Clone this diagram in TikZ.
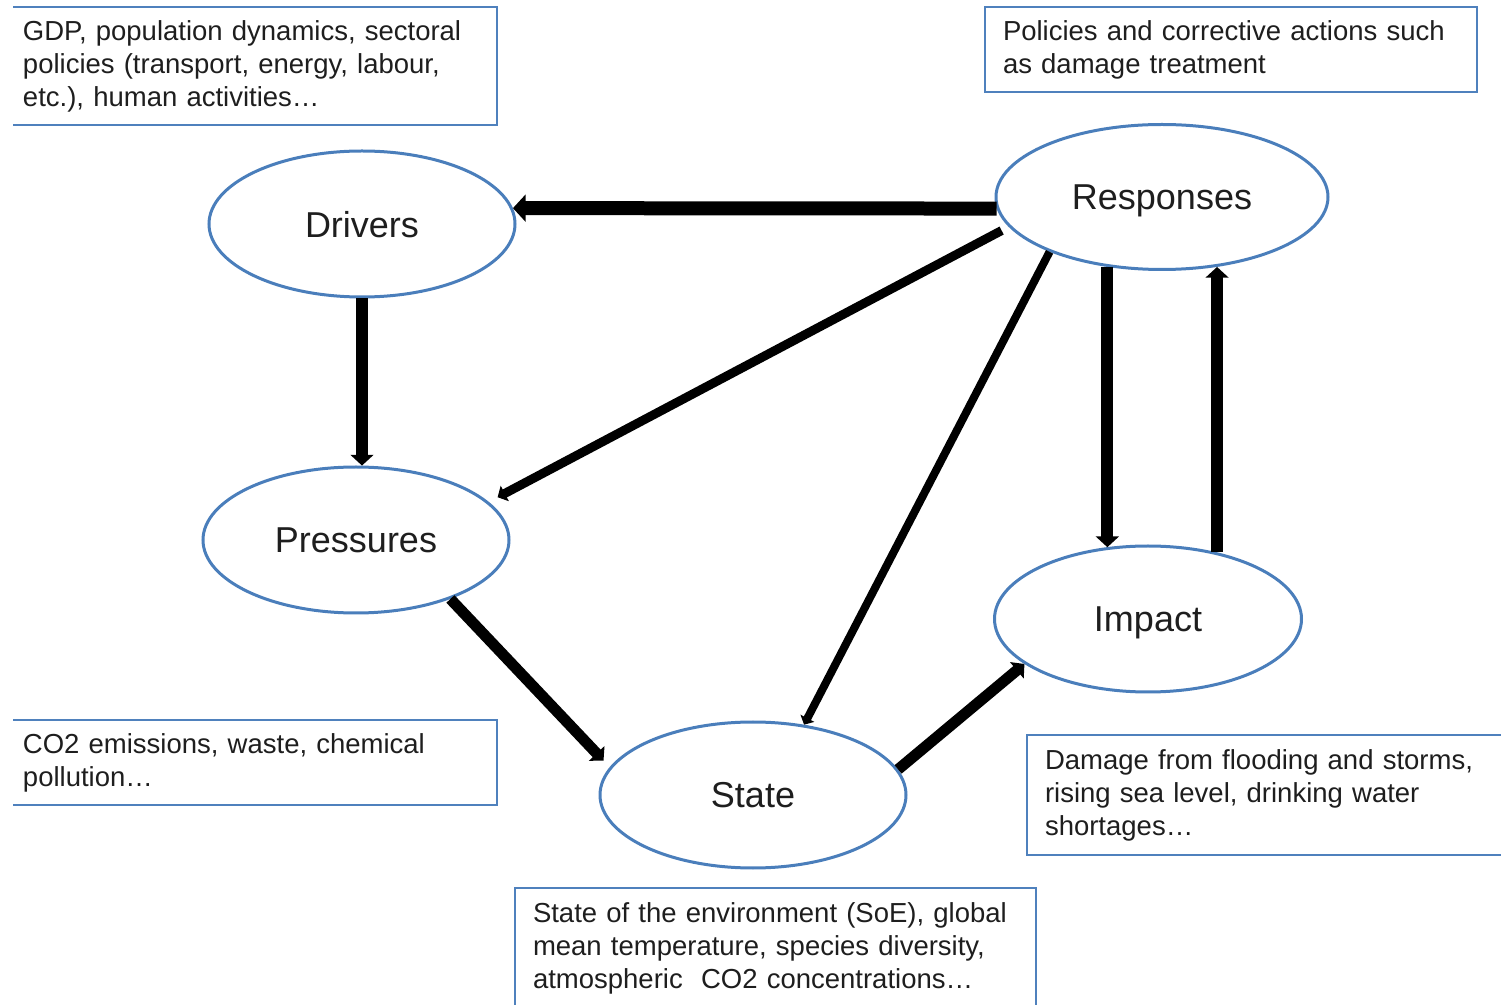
\documentclass[tikz,border=0pt]{standalone}
\usepackage{fontspec}
\setmainfont{Liberation Sans}
\usetikzlibrary{arrows.meta,shapes.geometric}
\definecolor{ellblue}{RGB}{74,126,187}
\definecolor{boxblue}{RGB}{79,129,189}
\definecolor{txtgray}{RGB}{30,30,30}

\begin{document}
\begin{tikzpicture}[x=0.5pt,y=-0.5pt,
  stage/.style={ellipse,draw=ellblue,line width=1.5pt,inner sep=0pt,minimum height=73pt,
    text depth=0pt,text=txtgray,font=\fontsize{18}{21}\selectfont},
  note/.style={rectangle,draw=boxblue,line width=1pt,inner xsep=9pt,inner ysep=0pt,
    minimum width=246pt,text width=228pt,align=left,text=txtgray,
    font=\fontsize{13.75}{16.5}\selectfont},
  flow/.style={-{Triangle[length=0pt 0.9,width=0pt 1.9]}}]
\useasboundingbox (0,0) rectangle (1501,1005);

\node[stage,minimum width=153pt] (drivers) at (362,224) {Drivers};
\node[stage,minimum width=166pt,minimum height=72.5pt] (responses) at (1162,197) {Responses};
\node[stage,minimum width=153pt] (pressures) at (356,540) {Pressures};
\node[stage,minimum width=153.5pt] (impact) at (1148,619) {Impact};
\node[stage,minimum width=153pt] (state) at (753,795) {State};

\begin{scope}
\clip (13,0) rectangle (1501,1005);
\node[note,minimum height=59pt] (drvnote) at (251,66)
  {GDP, population dynamics, sectoral\\policies (transport, energy, labour,\\etc.), human activities\ldots};
\node[note,minimum height=42.5pt] (respnote) at (1231,49.5)
  {Policies and corrective actions such\\as damage treatment};
\node[note,minimum height=42.5pt] (presnote) at (251,762.5)
  {CO2 emissions, waste, chemical\\pollution\ldots};
\node[note,minimum height=60pt] (impnote) at (1273,795)
  {Damage from flooding and storms,\\rising sea level, drinking water\\shortages\ldots};
\node[note,minimum height=60pt,minimum width=260.5pt,text width=242.5pt] (statenote) at (775.5,948)
  {State of the environment (SoE), global\\mean temperature, species diversity,\\atmospheric\ \ CO2 concentrations\ldots};
\end{scope}

\draw[flow,line width=7pt] (responses.184) -- (drivers.6);
\draw[flow,line width=6pt] (drivers.270) -- (drivers.270 |- pressures.85);
\draw[flow,line width=4.5pt,shorten <=4pt,shorten >=5pt] (responses.191) -- (pressures.16);
\draw[flow,line width=4pt] (responses.206) -- (state.54);
\draw[flow,line width=6pt] (responses.232) -- (responses.232 |- impact.120);
\draw[flow,line width=6pt] (impact.44) -- (impact.44 |- responses.308);
\draw[flow,line width=5.5pt,shorten >=4.5pt] (pressures.328) -- (state.169);
\draw[flow,line width=5.5pt] (state.10) -- (impact.200);
\end{tikzpicture}
\end{document}
